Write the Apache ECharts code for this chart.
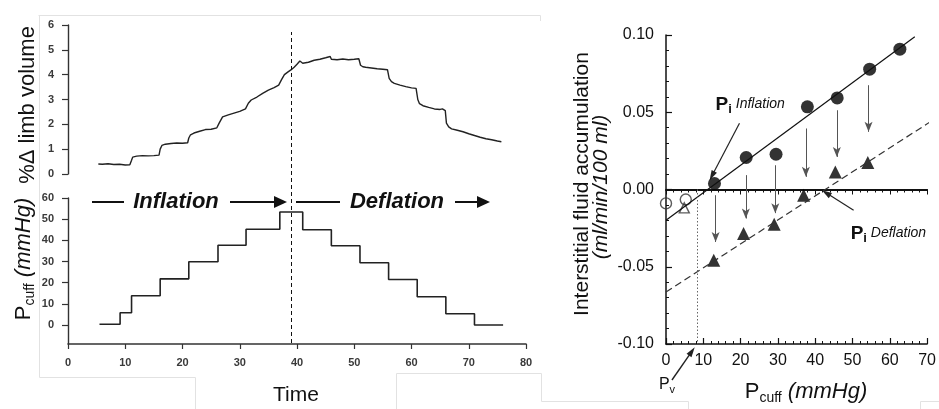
<!DOCTYPE html>
<html><head><meta charset="utf-8">
<script src="https://cdn.jsdelivr.net/npm/echarts@6/dist/echarts.min.js"></script>
<style>html,body{margin:0;padding:0;background:#fff}#c{width:939px;height:409px}</style>
</head><body><div id="c"></div>
<script>
// ---------- Left top: % change in limb volume vs time ----------
const volTime = [5.3,6,7,8,9,10,10.8,11.1,11.3,12,13,14,15,15.9,16.1,16.4,17,18,19,20,20.9,21.1,21.4,22,23,24,25,26,26.4,27,28,29,30,31,31.5,32,33,34,35,36,36.8,37.3,37.8,38.5,39,39.5,40,40.5,41,42,43,44,45,45.8,46,47,48,49,50,50.8,51.1,51.5,52,53,54,55,55.8,56.1,56.5,57,58,59,60,60.8,61.1,61.4,62,63,64,65,65.4,65.9,66.1,66.5,67,68,69,70,71,72,73,74,75,75.7];
const volValue = [0.40,0.39,0.41,0.38,0.39,0.36,0.37,0.55,0.68,0.72,0.74,0.73,0.74,0.76,1.00,1.15,1.20,1.23,1.25,1.24,1.26,1.45,1.58,1.65,1.72,1.79,1.80,1.86,2.05,2.30,2.38,2.45,2.52,2.62,2.85,2.98,3.10,3.25,3.38,3.48,3.58,3.80,4.00,4.12,4.20,4.30,4.42,4.55,4.46,4.50,4.58,4.62,4.68,4.73,4.62,4.60,4.63,4.60,4.62,4.64,4.38,4.32,4.30,4.27,4.24,4.22,4.20,3.85,3.72,3.65,3.58,3.52,3.47,3.45,3.00,2.83,2.75,2.68,2.62,2.60,2.62,2.55,2.05,1.90,1.82,1.76,1.70,1.62,1.55,1.48,1.42,1.38,1.33,1.30];
// ---------- Left bottom: cuff pressure steps (start time of each level) ----------
const cuffStepTime  = [5.5, 9.1, 11.1, 16.1, 21.1, 26.2, 31.1, 37.0, 41.0, 46.0, 51.0, 56.0, 61.0, 66.0, 71.0, 76.0];
const cuffStepLevel = [0.3, 5.8, 13.8, 21.8, 29.9, 37.7, 45.2, 53.4, 45.0, 37.4, 29.4, 21.5, 13.3, 5.3, 0.0, 0.0];
const timeTicks = [0,10,20,30,40,50,60,70,80];
const volTicks = [0,1,2,3,4,5,6];
const cuffTicks = [0,10,20,30,40,50,60];
const phaseBoundaryTime = 39;

// ---------- Right: interstitial fluid accumulation vs Pcuff ----------
const inflPcuff = [13.0, 21.5, 29.5, 37.9, 45.9, 54.6, 62.7];
const inflRate  = [0.0039, 0.0207, 0.0228, 0.0535, 0.0593, 0.0779, 0.0908];
const deflPcuff = [12.8, 20.8, 29.0, 36.9, 45.4, 54.1];
const deflRate  = [-0.0458, -0.0285, -0.0225, -0.0037, 0.0114, 0.0175];
const openCirclePcuff = [0, 5.3];
const openCircleRate  = [-0.009, -0.0065];
const openTrianglePcuff = [4.9];
const openTriangleRate  = [-0.0119];
const inflFitPcuff = [0, 66.7];
const inflFitRate  = [-0.0199, 0.0988];
const deflFitPcuff = [0, 72.9];
const deflFitRate  = [-0.0663, 0.047];
const shiftPcuff = [13.3, 21.4, 29.3, 37.5, 45.8, 54.3];
const shiftFrom  = [-0.0037, 0.0093, 0.0157, 0.0395, 0.0513, 0.0675];
const shiftTo    = [-0.034, -0.0188, -0.0153, 0.0082, 0.0211, 0.0373];
const pvPcuff = 8.5;
const pcuffTicks = [0,10,20,30,40,50,60,70];
const rateTicks = [-0.10,-0.05,0.00,0.05,0.10];

const FF = '"Liberation Sans", Arial, Helvetica, sans-serif';
const zip = (a, b) => a.map((v, i) => [v, b[i]]);

const chart = echarts.init(document.getElementById('c'), null, {renderer: 'canvas'});

const leftLabel = {fontFamily: FF, fontSize: 11, fontWeight: 'bold', color: '#3a3a3a'};
const rightLabel = {fontFamily: FF, fontSize: 16, color: '#111'};

const option = {
  animation: false,
  backgroundColor: '#fff',
  grid: [
    {left: 68, top: 25, width: 458, height: 149},
    {left: 68, top: 198, width: 458, height: 146},
    {left: 68, top: 32, width: 458, height: 311},
    {left: 666, top: 35, width: 263, height: 309}
  ],
  xAxis: [
    {gridIndex: 0, type: 'value', min: 0, max: 80, show: false},
    {gridIndex: 1, type: 'value', min: timeTicks[0], max: timeTicks[timeTicks.length-1], interval: 10,
      axisLine: {onZero: false, lineStyle: {color: '#333', width: 1.6}},
      axisTick: {show: true, length: 5, lineStyle: {color: '#333', width: 1.2}},
      axisLabel: Object.assign({margin: 13}, leftLabel),
      splitLine: {show: false}},
    {gridIndex: 2, type: 'value', min: 0, max: 80, show: false},
    {gridIndex: 3, type: 'value', min: pcuffTicks[0], max: pcuffTicks[pcuffTicks.length-1], interval: 10, position: 'bottom',
      axisLine: {onZero: false, lineStyle: {color: '#111', width: 1.5}},
      axisTick: {show: true, inside: true, length: 6, lineStyle: {color: '#111', width: 1.2}},
      minorTick: {show: true, splitNumber: 5, length: 3, lineStyle: {color: '#111', width: 1}},
      axisLabel: Object.assign({margin: 9}, rightLabel),
      splitLine: {show: false}, minorSplitLine: {show: false}},
    {gridIndex: 3, type: 'value', min: 0, max: 70, interval: 10, position: 'top',
      axisLine: {onZero: true, lineStyle: {color: '#111', width: 2}},
      axisTick: {show: true, inside: true, length: 5, lineStyle: {color: '#111', width: 1}},
      minorTick: {show: true, splitNumber: 5, length: 3, lineStyle: {color: '#111', width: 1}},
      axisLabel: {show: false}, splitLine: {show: false}}
  ],
  yAxis: [
    {gridIndex: 0, type: 'value', min: volTicks[0], max: volTicks[volTicks.length-1], interval: 1,
      axisLine: {show: true, onZero: false, lineStyle: {color: '#333', width: 1.4}},
      axisTick: {show: true, length: 6, lineStyle: {color: '#333', width: 1.2}},
      axisLabel: Object.assign({margin: 14}, leftLabel),
      splitLine: {show: false}},
    {gridIndex: 1, type: 'value', min: -9, max: 60,
      axisLine: {show: true, onZero: false, lineStyle: {color: '#333', width: 1.4}},
      axisTick: {show: true, length: 6, customValues: cuffTicks, lineStyle: {color: '#333', width: 1.2}},
      axisLabel: Object.assign({margin: 14, customValues: cuffTicks}, leftLabel),
      splitLine: {show: false}},
    {gridIndex: 2, type: 'value', min: 0, max: 1, show: false},
    {gridIndex: 3, type: 'value', min: rateTicks[0], max: rateTicks[rateTicks.length-1], interval: 0.05,
      axisLine: {show: true, onZero: false, lineStyle: {color: '#111', width: 1.5}},
      axisTick: {show: true, inside: true, length: 6, lineStyle: {color: '#111', width: 1.2}},
      minorTick: {show: true, splitNumber: 5, length: 3, lineStyle: {color: '#111', width: 1}},
      axisLabel: Object.assign({margin: 12, formatter: v => v.toFixed(2)}, rightLabel),
      splitLine: {show: false}}
  ],
  series: [
    {type: 'line', xAxisIndex: 0, yAxisIndex: 0, data: zip(volTime, volValue), showSymbol: false, silent: true,
      lineStyle: {color: '#222', width: 1.4}},
    {type: 'line', step: 'end', xAxisIndex: 1, yAxisIndex: 1, data: zip(cuffStepTime, cuffStepLevel), showSymbol: false, silent: true,
      lineStyle: {color: '#222', width: 1.6}},
    {type: 'line', xAxisIndex: 2, yAxisIndex: 2, data: [], silent: true,
      markLine: {silent: true, symbol: ['none','none'], label: {show: false},
        lineStyle: {color: '#111', width: 1, type: [4, 3]},
        data: [[{coord: [phaseBoundaryTime, 0]}, {coord: [phaseBoundaryTime, 1]}]]}},
    {type: 'line', xAxisIndex: 3, yAxisIndex: 3, data: zip(inflFitPcuff, inflFitRate), showSymbol: false, silent: true, clip: false,
      lineStyle: {color: '#111', width: 1.2}},
    {type: 'line', xAxisIndex: 3, yAxisIndex: 3, data: zip(deflFitPcuff, deflFitRate), showSymbol: false, silent: true, clip: false,
      lineStyle: {color: '#333', width: 1.2, type: [7, 4]}},
    {type: 'scatter', xAxisIndex: 3, yAxisIndex: 3, data: zip(shiftPcuff, shiftFrom), symbolSize: 0, silent: true,
      markLine: {silent: true, symbol: ['none', 'arrow'], symbolSize: [6, 10], label: {show: false},
        lineStyle: {color: '#555', width: 1, type: 'solid'},
        data: shiftPcuff.map((x, i) => [{coord: [x, shiftFrom[i]]}, {coord: [x, shiftTo[i]]}])
          .concat([[{coord: [pvPcuff, 0], symbol: 'none', lineStyle: {type: [1.5, 2], color: '#666'}}, {coord: [pvPcuff, rateTicks[0]], symbol: 'none'}]])}},
    {type: 'scatter', xAxisIndex: 3, yAxisIndex: 3, data: zip(inflPcuff, inflRate), symbol: 'circle', symbolSize: 13, clip: false, silent: true,
      itemStyle: {color: '#000'}},
    {type: 'scatter', xAxisIndex: 3, yAxisIndex: 3, data: zip(deflPcuff, deflRate), symbol: 'triangle', symbolSize: 13, clip: false, silent: true,
      itemStyle: {color: '#000'}},
    {type: 'scatter', xAxisIndex: 3, yAxisIndex: 3, data: zip(openCirclePcuff, openCircleRate), symbol: 'circle', symbolSize: 11, clip: false, silent: true,
      itemStyle: {color: 'rgba(255,255,255,0)', borderColor: '#333', borderWidth: 1.4}},
    {type: 'scatter', xAxisIndex: 3, yAxisIndex: 3, data: zip(openTrianglePcuff, openTriangleRate), symbol: 'triangle', symbolSize: 10, clip: false, silent: true,
      itemStyle: {color: 'rgba(255,255,255,0)', borderColor: '#333', borderWidth: 1.4}}
  ]
};
chart.setOption(option);

// ---------- annotations ----------
const mctx = document.createElement('canvas').getContext('2d');
function fontStr(p) { return (p.style || 'normal') + ' ' + (p.weight || 'normal') + ' ' + p.size + 'px ' + FF; }
function label(x, y, rot, parts, anchor) {
  let widths = parts.map(p => { mctx.font = fontStr(p); return mctx.measureText(p.text).width; });
  let W = widths.reduce((a, b) => a + b, 0);
  let off = anchor === 'left' ? 0 : -W / 2;
  const children = parts.map((p, i) => {
    const el = {type: 'text', x: off, y: p.dy || 0, silent: true,
      style: {text: p.text, font: fontStr(p), fontSize: p.size, fontFamily: FF, fontStyle: p.style || 'normal', fontWeight: p.weight || 'normal',
        fill: p.color || '#111', align: 'left', textAlign: 'left', verticalAlign: 'middle', textVerticalAlign: 'middle'}};
    off += widths[i];
    return el;
  });
  return {type: 'group', x: x, y: y, rotation: rot, children: children};
}
function arrow(p0, p1, color, width, hl, hw) {
  const dx = p1[0] - p0[0], dy = p1[1] - p0[1];
  const L = Math.sqrt(dx * dx + dy * dy), ux = dx / L, uy = dy / L;
  const bx = p1[0] - ux * hl, by = p1[1] - uy * hl;
  return [
    {type: 'line', silent: true, shape: {x1: p0[0], y1: p0[1], x2: bx + ux * 1, y2: by + uy * 1}, style: {stroke: color, lineWidth: width}},
    {type: 'polygon', silent: true, shape: {points: [[p1[0], p1[1]], [bx - uy * hw / 2, by + ux * hw / 2], [bx + uy * hw / 2, by - ux * hw / 2]]}, style: {fill: color}}
  ];
}
const px = (x, y) => chart.convertToPixel({gridIndex: 3}, [x, y]);
const faint = '#e2e2e2';
const fl = (x1, y1, x2, y2) => ({type: 'line', silent: true, shape: {x1, y1, x2, y2}, style: {stroke: faint, lineWidth: 1}});

const R = Math.PI / 2;
const g = [
  // faint scan borders
  fl(38.5, 15.5, 540.5, 15.5), fl(540.5, 15.5, 540.5, 21), fl(39.5, 15.5, 39.5, 377.5),
  fl(39.5, 377.5, 195.5, 377.5), fl(195.5, 377.5, 195.5, 409),
  fl(396.5, 373.5, 396.5, 409), fl(396.5, 373.5, 541.5, 373.5), fl(541.5, 373.5, 541.5, 401.5),
  fl(541.5, 401.5, 688.5, 401.5), fl(688.5, 401.5, 688.5, 409), fl(920.5, 401.5, 920.5, 409), fl(920.5, 401.5, 939, 401.5),
  // left axis titles
  label(28, 105, R, [{text: '%\u0394 limb volume', size: 22}]),
  label(24, 259, R, [{text: 'P', size: 22}, {text: 'cuff', size: 14, dy: 6}, {text: ' (mmHg)', size: 22, style: 'italic'}]),
  label(296, 395, 0, [{text: 'Time', size: 21}]),
  // phase labels
  label(176, 202, 0, [{text: 'Inflation', size: 22, style: 'italic', weight: 'bold'}]),
  label(397, 202, 0, [{text: 'Deflation', size: 22, style: 'italic', weight: 'bold'}]),
  {type: 'line', silent: true, shape: {x1: 92, y1: 202, x2: 124, y2: 202}, style: {stroke: '#111', lineWidth: 2}},
  ...arrow([230, 202], [287, 202], '#111', 2, 13, 12),
  {type: 'line', silent: true, shape: {x1: 296, y1: 202, x2: 340, y2: 202}, style: {stroke: '#111', lineWidth: 2}},
  ...arrow([455, 202], [490, 202], '#111', 2, 13, 12),
  // right axis titles
  label(582, 184, R, [{text: 'Interstitial fluid accumulation', size: 21}]),
  label(601, 187, R, [{text: '(ml/min/100 ml)', size: 21, style: 'italic'}]),
  label(806, 392, 0, [{text: 'P', size: 22}, {text: 'cuff', size: 14, dy: 6}, {text: ' (mmHg)', size: 22, style: 'italic'}])
];
// right panel annotations anchored in data space
const pInf = px(13.3, 0.055);
g.push(label(pInf[0], pInf[1], 0, [{text: 'P', size: 19, weight: 'bold'}, {text: 'i', size: 13, weight: 'bold', dy: 5}, {text: ' Inflation', size: 14, style: 'italic'}], 'left'));
const pDef = px(49.5, -0.0285);
g.push(label(pDef[0], pDef[1], 0, [{text: 'P', size: 19, weight: 'bold'}, {text: 'i', size: 13, weight: 'bold', dy: 5}, {text: ' Deflation', size: 14, style: 'italic'}], 'left'));
const pPv = px(-1.9, -0.126);
g.push(label(pPv[0], pPv[1], 0, [{text: 'P', size: 16}, {text: 'v', size: 11, dy: 6}], 'left'));
g.push(...arrow(px(19.7, 0.0429), px(11.7, 0.006), '#222', 1.2, 10, 6));
g.push(...arrow(px(50.3, -0.0134), px(41.8, -0.0005), '#222', 1.2, 10, 6));
g.push(...arrow(px(1.6, -0.1233), px(7.7, -0.1021), '#222', 1.4, 10, 6));

chart.setOption({graphic: {elements: g}});
</script>
</body></html>
